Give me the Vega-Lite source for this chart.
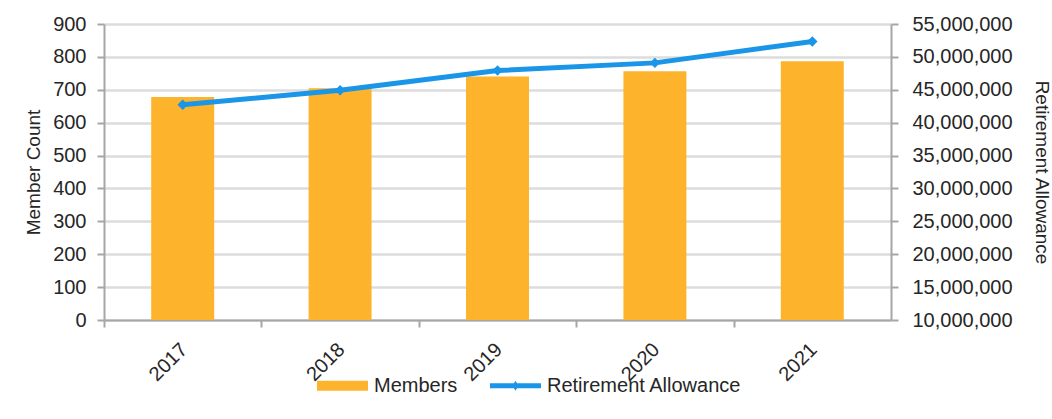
{
  "$schema": "https://vega.github.io/schema/vega-lite/v6.json",
  "width": 787,
  "height": 296,
  "autosize": "none",
  "padding": {"left": 104, "top": 24, "right": 161, "bottom": 99},
  "background": "white",
  "config": {
    "font": "Liberation Sans",
    "view": {"stroke": null},
    "axis": {
      "labelFont": "Liberation Sans",
      "titleFont": "Liberation Sans",
      "labelFontSize": 20,
      "titleFontSize": 19,
      "titleFontWeight": "normal",
      "labelColor": "#262626",
      "titleColor": "#262626",
      "domainColor": "#a6a6a6",
      "domainWidth": 2,
      "tickColor": "#a6a6a6",
      "tickWidth": 2,
      "tickSize": 7
    },
    "legend": {"labelFont": "Liberation Sans"}
  },
  "data": {
    "values": [
      {"year": "2017", "members": 678, "allowance": 42740000},
      {"year": "2018", "members": 705, "allowance": 44920000},
      {"year": "2019", "members": 740, "allowance": 47920000},
      {"year": "2020", "members": 756, "allowance": 49090000},
      {"year": "2021", "members": 787, "allowance": 52340000}
    ]
  },
  "encoding": {
    "x": {
      "field": "year",
      "type": "ordinal",
      "scale": {"paddingInner": 0.6, "paddingOuter": 0.3},
      "axis": {
        "title": null,
        "labelAngle": -45,
        "labelPadding": 12,
        "tickOffset": -78.6,
        "labelOffset": 72.6,
        "grid": false
      }
    }
  },
  "layer": [
    {
      "mark": {"type": "bar"},
      "encoding": {
        "y": {
          "field": "members",
          "type": "quantitative",
          "scale": {"domain": [0, 900], "nice": false},
          "axis": {
            "title": "Member  Count",
            "values": [0, 100, 200, 300, 400, 500, 600, 700, 800, 900],
            "grid": true,
            "gridColor": "#dcdcdc",
            "gridWidth": 2.5,
            "labelPadding": 11,
            "titlePadding": 9
          }
        },
        "color": {
          "datum": "Members",
          "type": "nominal",
          "scale": {
            "domain": ["Members", "Retirement Allowance"],
            "range": ["#FDB32B", "#1A95E8"]
          },
          "legend": {
            "orient": "none",
            "legendX": 213,
            "legendY": 336,
            "direction": "horizontal",
            "title": null,
            "padding": 0,
            "symbolSize": 2600,
            "labelFontSize": 20,
            "labelLimit": 0,
            "labelColor": "#262626",
            "labelOffset": 6,
            "columnPadding": 32,
            "encode": {
              "symbols": {
                "update": {
                  "shape": {"signal": "datum.value === 'Members' ? 'M-1,-0.2H1V0.2H-1Z' : 'M-1,-0.1H1V0.1H-1Z M-0.12,0L0,-0.2L0.12,0L0,0.2Z'"},
                  "fill": {"signal": "scale('color', datum.value)"},
                  "strokeWidth": {"value": 0}
                }
              }
            }
          }
        }
      }
    },
    {
      "mark": {
        "type": "line",
        "strokeWidth": 5,
        "point": {"shape": "diamond", "size": 110, "filled": true, "opacity": 1}
      },
      "encoding": {
        "y": {
          "field": "allowance",
          "type": "quantitative",
          "scale": {"domain": [10000000, 55000000], "nice": false, "zero": false},
          "axis": {
            "title": "Retirement  Allowance",
            "orient": "right",
            "format": ",d",
            "values": [10000000, 15000000, 20000000, 25000000, 30000000, 35000000, 40000000, 45000000, 50000000, 55000000],
            "grid": false,
            "labelPadding": 14,
            "titlePadding": 19
          }
        },
        "color": {"datum": "Retirement Allowance", "type": "nominal"}
      }
    }
  ],
  "resolve": {"scale": {"y": "independent"}}
}
